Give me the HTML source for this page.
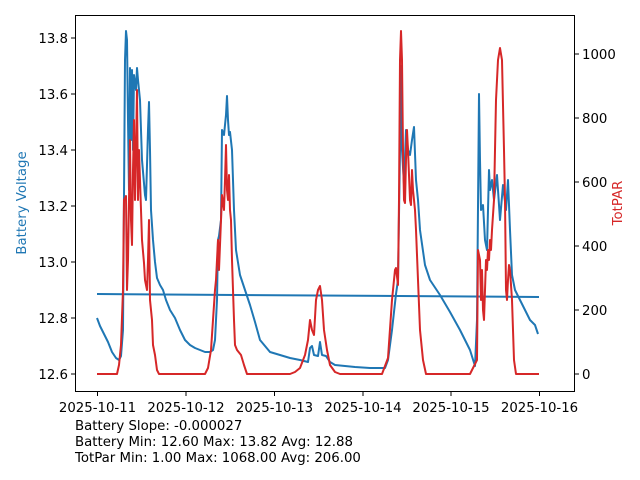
<!DOCTYPE html>
<html><head><meta charset="utf-8"><style>
body{margin:0;background:#fff;}
svg{display:block;font-family:"DejaVu Sans","Liberation Sans",sans-serif;}
</style></head><body>
<svg width="640" height="480" viewBox="0 0 640 480" xmlns="http://www.w3.org/2000/svg">
<rect width="640" height="480" fill="#fff"/>
<g fill="none" stroke-width="2" stroke-linejoin="round">
<polyline stroke="#1f77b4" points="97,294 539,297"/>
<polyline stroke="#1f77b4" points="97,318 100,326 104,334 108,342 112,352 116,358 119,360 121,356 123,330 125,60 126,31 127,40 128,120 129,190 130,68 131,140 132,70 133,150 134,75 136,90 137,68 138,80 140,100 142,160 145,195 146,200 148,130 149,102 150,150 151,210 153,240 155,262 157,278 160,285 163,290 166,300 170,310 175,318 180,330 185,340 190,345 195,348 200,350 205,352 210,352 213,350 215,340 217,300 218,240 219,236 221,220 222,130 224,135 226,115 227,96 228,120 229,135 230,132 232,150 234,210 236,250 240,275 245,290 250,305 255,322 260,340 265,346 270,352 280,355 290,358 300,360 308,362 310,348 312,346 314,355 318,356 320,342 322,355 326,356 330,362 335,365 345,366 355,367 370,368 385,368 388,360 392,330 396,294 398,280 400,150 401,66 402,150 404,185 406,130 408,150 410,155 412,140 414,127 416,180 418,200 420,230 425,265 430,280 440,295 450,312 460,330 470,350 475,366 477,320 479,94 480,160 481,210 483,205 485,240 487,250 489,170 490,190 492,180 494,200 497,175 500,220 503,185 506,210 508,180 510,230 512,275 515,290 520,300 525,310 530,320 535,325 538,334"/>
<polyline stroke="#d62728" points="97,374 117,374 119,365 121,345 123,290 124,200 126,196 127,290 128,260 129,200 130,140 131,220 132,245 133,170 134,120 135,200 136,150 137,90 138,200 139,150 140,180 142,240 144,263 145,280 147,290 148,260 149,220 150,300 151,310 152,320 153,345 155,355 157,370 159,374 205,374 208,368 211,350 213,320 215,290 216,280 218,240 219,270 221,220 222,195 224,210 225,180 226,145 227,190 228,200 229,175 230,210 231,220 232,260 234,320 235,345 237,350 241,355 244,365 247,374 290,374 295,372 300,368 305,355 308,340 310,320 312,330 314,335 316,300 318,290 320,286 322,300 324,330 327,350 330,365 335,372 340,374 382,374 388,358 392,300 395,270 396,268 398,285 399,200 400,60 401,31 402,60 403,150 404,200 405,203 406,160 407,130 408,150 410,200 411,205 412,170 413,190 414,200 415,210 416,230 418,280 420,330 423,360 426,374 470,374 477,360 478,250 480,260 481,300 482,270 483,310 484,320 486,260 487,270 488,250 489,260 490,240 491,250 492,230 494,200 496,100 498,60 500,48 502,60 504,150 505,200 506,290 507,300 508,280 509,265 510,270 512,300 514,360 516,374 539,374"/>
</g>
<rect x="75.5" y="15.5" width="499" height="376" fill="none" stroke="#000" stroke-width="1"/>
<g stroke="#000" stroke-width="1">
<line x1="75" y1="38" x2="71" y2="38"/><line x1="75" y1="94" x2="71" y2="94"/><line x1="75" y1="150" x2="71" y2="150"/><line x1="75" y1="206" x2="71" y2="206"/><line x1="75" y1="262" x2="71" y2="262"/><line x1="75" y1="318" x2="71" y2="318"/><line x1="75" y1="374" x2="71" y2="374"/>
<line x1="575" y1="54" x2="579" y2="54"/><line x1="575" y1="118" x2="579" y2="118"/><line x1="575" y1="182" x2="579" y2="182"/><line x1="575" y1="246" x2="579" y2="246"/><line x1="575" y1="310" x2="579" y2="310"/><line x1="575" y1="374" x2="579" y2="374"/>
<line x1="97.5" y1="392" x2="97.5" y2="396"/><line x1="186" y1="392" x2="186" y2="396"/><line x1="274.5" y1="392" x2="274.5" y2="396"/><line x1="363" y1="392" x2="363" y2="396"/><line x1="451" y1="392" x2="451" y2="396"/><line x1="539.5" y1="392" x2="539.5" y2="396"/>
</g>
<g font-size="13.3" fill="#000" text-anchor="end">
<text x="68" y="43">13.8</text><text x="68" y="99">13.6</text><text x="68" y="155">13.4</text><text x="68" y="211">13.2</text><text x="68" y="267">13.0</text><text x="68" y="323">12.8</text><text x="68" y="379">12.6</text>
</g>
<g font-size="13.3" fill="#000">
<text x="582" y="59">1000</text><text x="582" y="123">800</text><text x="582" y="187">600</text><text x="582" y="251">400</text><text x="582" y="315">200</text><text x="582" y="379">0</text>
</g>
<g font-size="13.3" fill="#000" text-anchor="middle">
<text x="97.5" y="412">2025-10-11</text><text x="186" y="412">2025-10-12</text><text x="274.5" y="412">2025-10-13</text><text x="363" y="412">2025-10-14</text><text x="451" y="412">2025-10-15</text><text x="539.5" y="412">2025-10-16</text>
</g>
<text transform="translate(26,203) rotate(-90)" font-size="13.3" fill="#1f77b4" text-anchor="middle">Battery Voltage</text>
<text transform="translate(622,203) rotate(-90)" font-size="13.3" fill="#d62728" text-anchor="middle">TotPAR</text>
<g font-size="13.3" fill="#000">
<text x="75" y="430">Battery Slope: -0.000027</text>
<text x="75" y="446">Battery Min: 12.60 Max: 13.82 Avg: 12.88</text>
<text x="75" y="462">TotPar Min: 1.00 Max: 1068.00 Avg: 206.00</text>
</g>
</svg>
</body></html>
